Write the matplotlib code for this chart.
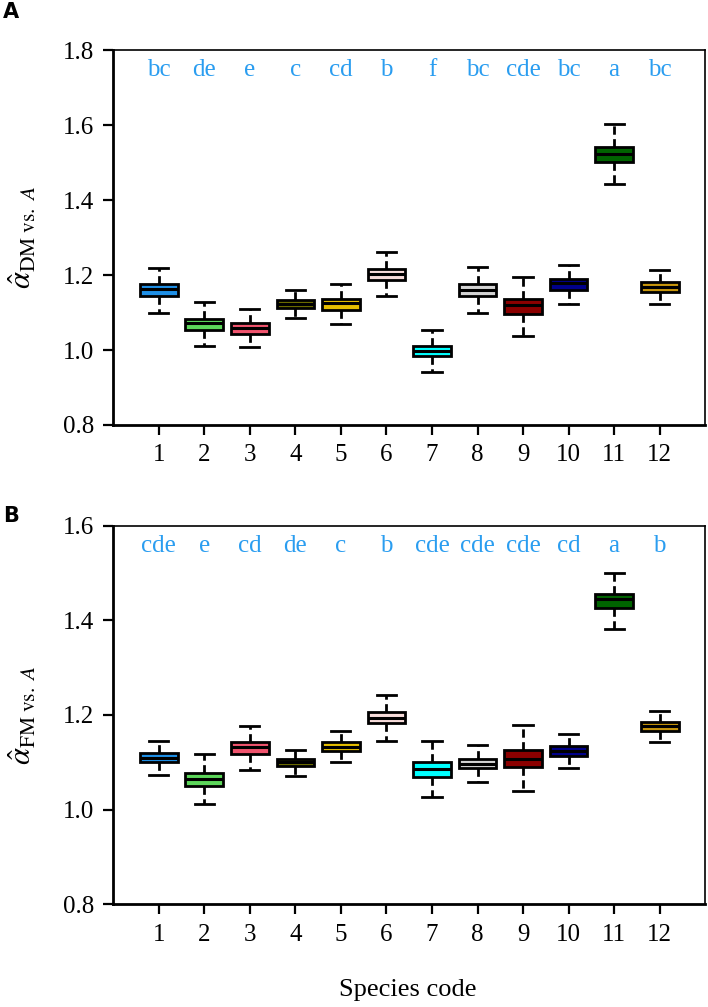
import matplotlib.pyplot as plt

plt.rcParams['font.family'] = ['Liberation Serif', 'DejaVu Serif']
plt.rcParams['mathtext.fontset'] = 'stix'

species = [1, 2, 3, 4, 5, 6, 7, 8, 9, 10, 11, 12]
colors = ['#1E8FE6', '#5CD65A', '#F0546E', '#6E6E00', '#E6BE00', '#F7DCDA',
          '#00FFFF', '#D3D3D3', '#8B0000', '#00008B', '#006400', '#C8960C']

# panel A: alpha DM vs A
dm_lo = [1.100, 1.011, 1.007, 1.086, 1.070, 1.145, 0.942, 1.099, 1.038, 1.124, 1.442, 1.124]
dm_q1 = [1.145, 1.053, 1.044, 1.113, 1.108, 1.187, 0.983, 1.143, 1.097, 1.160, 1.501, 1.156]
dm_med = [1.163, 1.071, 1.060, 1.122, 1.126, 1.203, 0.997, 1.160, 1.119, 1.178, 1.522, 1.169]
dm_q3 = [1.175, 1.083, 1.072, 1.133, 1.136, 1.217, 1.011, 1.175, 1.137, 1.189, 1.542, 1.181]
dm_hi = [1.220, 1.127, 1.109, 1.159, 1.177, 1.261, 1.053, 1.221, 1.196, 1.226, 1.603, 1.214]
dm_letters = ['bc', 'de', 'e', 'c', 'cd', 'b', 'f', 'bc', 'cde', 'bc', 'a', 'bc']

# panel B: alpha FM vs A
fm_lo = [1.074, 1.012, 1.084, 1.072, 1.100, 1.146, 1.026, 1.058, 1.040, 1.089, 1.381, 1.143]
fm_q1 = [1.100, 1.050, 1.118, 1.092, 1.123, 1.182, 1.069, 1.087, 1.090, 1.114, 1.425, 1.166]
fm_med = [1.110, 1.064, 1.132, 1.100, 1.133, 1.194, 1.085, 1.097, 1.108, 1.124, 1.445, 1.176]
fm_q3 = [1.119, 1.078, 1.143, 1.107, 1.142, 1.206, 1.101, 1.107, 1.127, 1.134, 1.455, 1.185]
fm_hi = [1.144, 1.117, 1.177, 1.127, 1.166, 1.242, 1.144, 1.136, 1.178, 1.160, 1.501, 1.208]
fm_letters = ['cde', 'e', 'cd', 'de', 'c', 'b', 'cde', 'cde', 'cde', 'cd', 'a', 'b']

letter_color = '#2A9DF0'

fig = plt.figure(figsize=(7.08, 10.07), dpi=100)
axA = fig.add_axes([0.160, 0.578, 0.836, 0.372])
axB = fig.add_axes([0.160, 0.102, 0.836, 0.376])


def draw(ax, lo, q1, med, q3, hi, letters, ylim, yticks, ylabel, letter_y):
    stats = []
    for i in range(len(species)):
        stats.append(dict(whislo=lo[i], q1=q1[i], med=med[i], q3=q3[i], whishi=hi[i], fliers=[]))
    bp = ax.bxp(stats, positions=species, widths=0.83, patch_artist=True,
                showfliers=False, capwidths=0.42,
                boxprops=dict(edgecolor='black', linewidth=2.0),
                medianprops=dict(color='black', linewidth=2.2),
                whiskerprops=dict(color='black', linewidth=2.0, linestyle=(0, (3.0, 1.6))),
                capprops=dict(color='black', linewidth=2.0))
    for patch, c in zip(bp['boxes'], colors):
        patch.set_facecolor(c)
    for x, t in zip(species, letters):
        ax.text(x, letter_y, t, color=letter_color, fontsize=18, ha='center', va='center')
    ax.set_xlim(0, 13)
    ax.set_ylim(*ylim)
    ax.set_yticks(yticks)
    ax.set_yticklabels(['%.1f' % v for v in yticks])
    ax.set_xticks(species)
    ax.set_xticklabels([str(s) for s in species])
    ax.tick_params(direction='out', length=7, width=1.6, labelsize=18, pad=7)
    for s in ['left', 'bottom']:
        ax.spines[s].set_linewidth(2.0)
    for s in ['top', 'right']:
        ax.spines[s].set_linewidth(1.2)
    ax.set_ylabel(ylabel, fontsize=22, labelpad=8)


draw(axA, dm_lo, dm_q1, dm_med, dm_q3, dm_hi, dm_letters, (0.8, 1.8),
     [0.8, 1.0, 1.2, 1.4, 1.6, 1.8], r'$\hat{\alpha}_{\mathrm{DM\ vs.}\ A}$', 1.747)
draw(axB, fm_lo, fm_q1, fm_med, fm_q3, fm_hi, fm_letters, (0.8, 1.6),
     [0.8, 1.0, 1.2, 1.4, 1.6], r'$\hat{\alpha}_{\mathrm{FM\ vs.}\ A}$', 1.556)

axA.yaxis.set_label_coords(-0.125, 0.5)
axB.yaxis.set_label_coords(-0.125, 0.5)

fig.text(0.5766, 0.017, 'Species code', fontsize=19, ha='center', va='center')
fig.text(0.004, 0.988, 'A', fontsize=15, fontweight='bold', family='DejaVu Sans', va='center')
fig.text(0.004, 0.488, 'B', fontsize=15, fontweight='bold', family='DejaVu Sans', va='center')

fig.savefig('out.png', dpi=100)
